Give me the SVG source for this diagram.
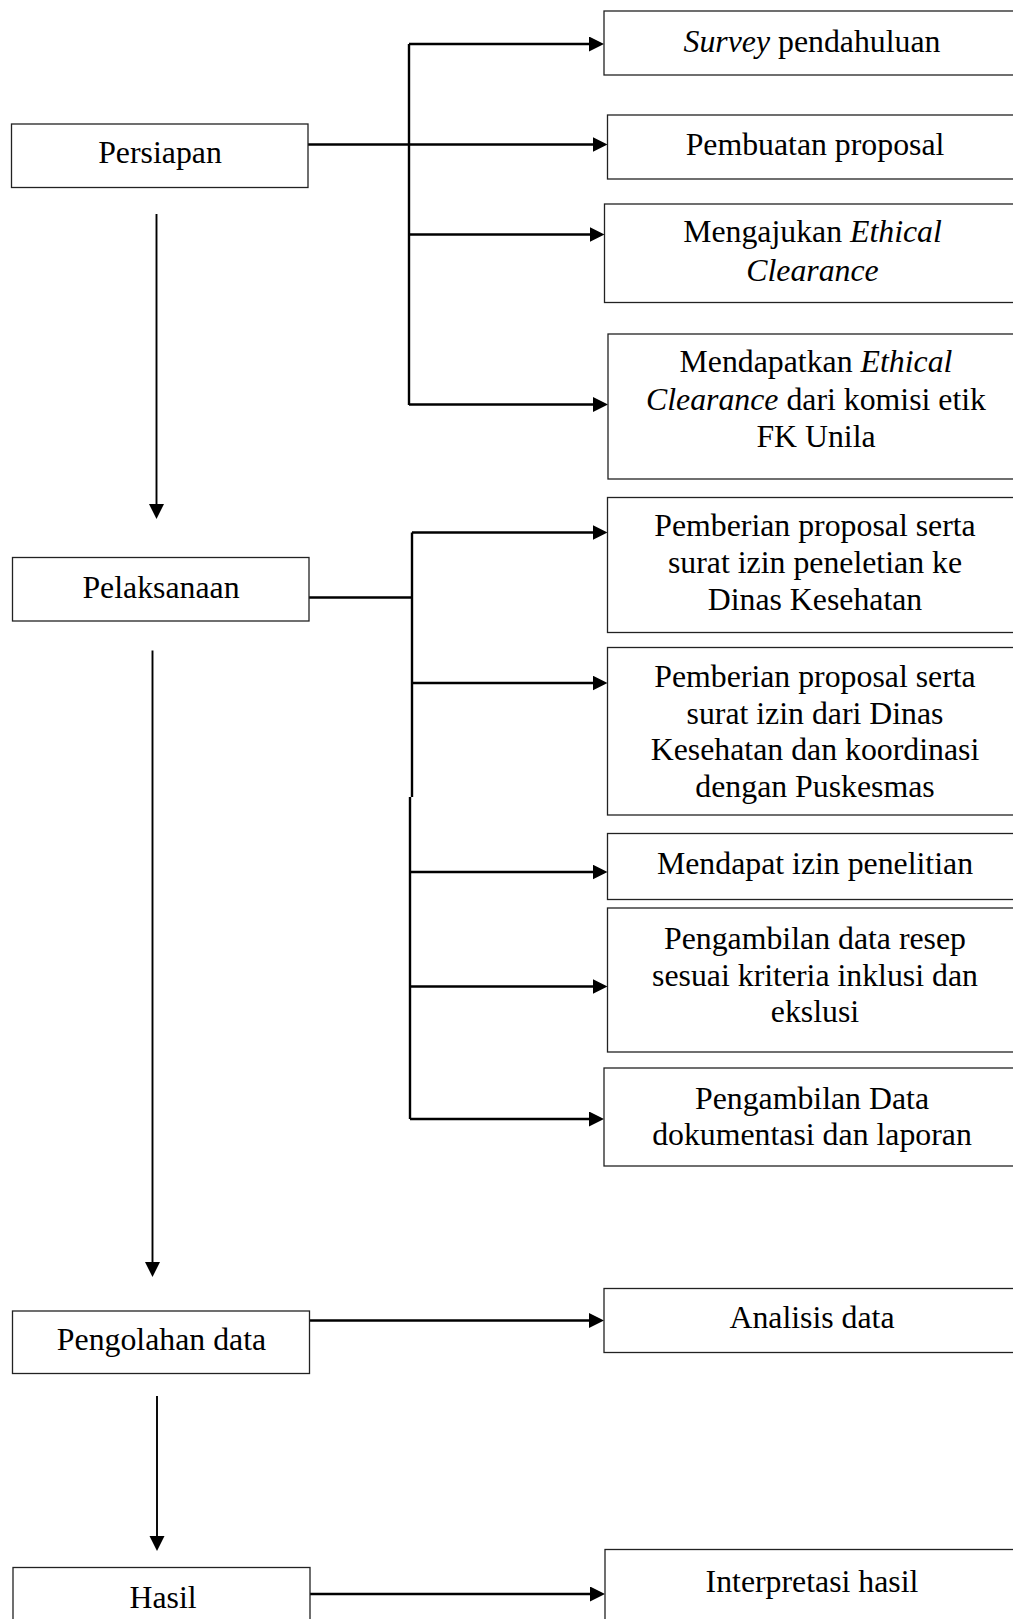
<svg xmlns="http://www.w3.org/2000/svg" width="1013" height="1619" viewBox="0 0 1013 1619">
<style>
.box{fill:#fff;stroke:#222;stroke-width:1.3}
.t{font-family:"Liberation Serif","Times New Roman",serif;font-size:31.8px;fill:#000;text-anchor:middle}
.i{font-style:italic}
.c{fill:none;stroke:#000;stroke-width:2.4}
.d{fill:none;stroke:#000;stroke-width:1.9}
</style>
<defs>
<marker id="ah" markerUnits="userSpaceOnUse" markerWidth="16" markerHeight="16" refX="5" refY="7.5" orient="auto">
<path d="M0,0 L15,7.5 L0,15 z" fill="#000"/>
</marker>
</defs>
<rect width="1013" height="1619" fill="#fff"/>

<g id="connectors">
<path class="c" d="M409,44 V405"/>
<path class="c" d="M409,44 H594" marker-end="url(#ah)"/>
<path class="c" d="M308,144.5 H597.5" marker-end="url(#ah)"/>
<path class="c" d="M409,234.5 H594.5" marker-end="url(#ah)"/>
<path class="c" d="M409,404.5 H598" marker-end="url(#ah)"/>
<path class="d" d="M156.5,214 V509" marker-end="url(#ah)"/>

<path class="c" d="M412,532.5 V797 M410,797 V1119"/>
<path class="c" d="M309,597.5 H412"/>
<path class="c" d="M412,532.5 H597.5" marker-end="url(#ah)"/>
<path class="c" d="M412,683 H597.5" marker-end="url(#ah)"/>
<path class="c" d="M410,872 H597.5" marker-end="url(#ah)"/>
<path class="c" d="M410,986.5 H597.5" marker-end="url(#ah)"/>
<path class="c" d="M410,1119 H594" marker-end="url(#ah)"/>
<path class="d" d="M152.5,650.5 V1267" marker-end="url(#ah)"/>

<path class="c" d="M309.5,1320.5 H594" marker-end="url(#ah)"/>
<path class="d" d="M157,1396 V1541" marker-end="url(#ah)"/>
<path class="c" d="M310,1594 H595" marker-end="url(#ah)"/>
</g>

<g id="persiapan">
<rect class="box" x="11.5" y="124" width="296.5" height="63.5"/>
<text class="t" x="160" y="163">Persiapan</text>
</g>
<g id="survey">
<rect class="box" x="604" y="11" width="425" height="64"/>
<text class="t" x="812" y="52"><tspan class="i">Survey</tspan> pendahuluan</text>
</g>
<g id="pembuatan">
<rect class="box" x="607.5" y="115" width="425" height="64"/>
<text class="t" x="815" y="154.5">Pembuatan proposal</text>
</g>
<g id="mengajukan">
<rect class="box" x="604.5" y="204" width="425" height="98.5"/>
<text class="t"><tspan x="812.5" y="242">Mengajukan <tspan class="i">Ethical</tspan></tspan><tspan class="i" x="812.5" y="281">Clearance</tspan></text>
</g>
<g id="mendapatkan">
<rect class="box" x="608" y="334" width="425" height="145"/>
<text class="t"><tspan x="816" y="371.5">Mendapatkan <tspan class="i">Ethical</tspan></tspan><tspan x="816" y="409.5"><tspan class="i">Clearance</tspan> dari komisi etik</tspan><tspan x="816" y="447">FK Unila</tspan></text>
</g>

<g id="pelaksanaan">
<rect class="box" x="12.5" y="557.5" width="296.5" height="63.5"/>
<text class="t" x="161" y="598">Pelaksanaan</text>
</g>
<g id="pemberian1">
<rect class="box" x="607.5" y="497.5" width="425" height="135"/>
<text class="t"><tspan x="815" y="535.5">Pemberian proposal serta</tspan><tspan x="815" y="572.5">surat izin peneletian ke</tspan><tspan x="815" y="609.5">Dinas Kesehatan</tspan></text>
</g>
<g id="pemberian2">
<rect class="box" x="607.5" y="647.5" width="425" height="167.5"/>
<text class="t"><tspan x="815" y="686.5">Pemberian proposal serta</tspan><tspan x="815" y="723.5">surat izin dari Dinas</tspan><tspan x="815" y="760">Kesehatan dan koordinasi</tspan><tspan x="815" y="796.5">dengan Puskesmas</tspan></text>
</g>
<g id="izin">
<rect class="box" x="607.5" y="833.5" width="425" height="66"/>
<text class="t" x="815" y="874">Mendapat izin penelitian</text>
</g>
<g id="resep">
<rect class="box" x="607.5" y="908" width="425" height="144"/>
<text class="t"><tspan x="815" y="948.5">Pengambilan data resep</tspan><tspan x="815" y="985.5">sesuai kriteria inklusi dan</tspan><tspan x="815" y="1021.5">ekslusi</tspan></text>
</g>
<g id="dokumentasi">
<rect class="box" x="604" y="1068" width="425" height="98"/>
<text class="t"><tspan x="812" y="1108.5">Pengambilan Data</tspan><tspan x="812" y="1145">dokumentasi dan laporan</tspan></text>
</g>

<g id="pengolahan">
<rect class="box" x="12.5" y="1311" width="297" height="62.5"/>
<text class="t" x="161.5" y="1350">Pengolahan data</text>
</g>
<g id="analisis">
<rect class="box" x="604" y="1288.5" width="425" height="64"/>
<text class="t" x="812" y="1328">Analisis data</text>
</g>

<g id="hasil">
<rect class="box" x="13" y="1567.5" width="297" height="100"/>
<text class="t" x="163" y="1608">Hasil</text>
</g>
<g id="interpretasi">
<rect class="box" x="605" y="1549.5" width="425" height="100"/>
<text class="t" x="812" y="1592">Interpretasi hasil</text>
</g>
</svg>
